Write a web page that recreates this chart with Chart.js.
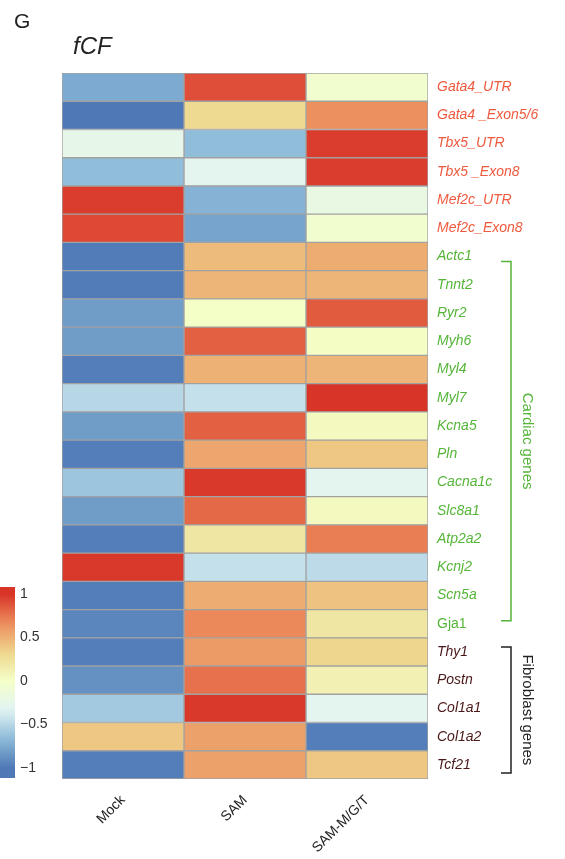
<!DOCTYPE html>
<html>
<head>
<meta charset="utf-8">
<script src="https://cdn.jsdelivr.net/npm/chart.js@4.4.1/dist/chart.umd.min.js"></script>
<style>
  html, body { margin: 0; padding: 0; background: #ffffff; }
  #wrap { width: 565px; height: 859px; position: relative; }
</style>
</head>
<body>
<div id="wrap"><canvas id="c" width="565" height="859"></canvas></div>
<script>
// ---- data ----
const genes = ["Gata4_UTR", "Gata4 _Exon5/6", "Tbx5_UTR", "Tbx5 _Exon8", "Mef2c_UTR", "Mef2c_Exon8",
  "Actc1", "Tnnt2", "Ryr2", "Myh6", "Myl4", "Myl7", "Kcna5", "Pln", "Cacna1c", "Slc8a1", "Atp2a2",
  "Kcnj2", "Scn5a", "Gja1", "Thy1", "Postn", "Col1a1", "Col1a2", "Tcf21"];
const conditions = ["Mock", "SAM", "SAM-M/G/T"];
const mockValues = [-0.75, -1.0, -0.25, -0.65, 0.97, 0.92, -0.98, -0.98, -0.82, -0.82, -0.97, -0.5, -0.82,
  -0.97, -0.6, -0.82, -0.97, 0.98, -0.97, -0.93, -0.97, -0.88, -0.58, 0.4, -0.97];
const samValues = [0.9, 0.3, -0.65, -0.3, -0.7, -0.78, 0.45, 0.48, 0.0, 0.83, 0.5, -0.45, 0.83,
  0.55, 0.98, 0.8, 0.2, -0.45, 0.52, 0.68, 0.6, 0.77, 0.98, 0.57, 0.57];
const samMGTValues = [-0.05, 0.65, 0.97, 0.97, -0.2, -0.05, 0.52, 0.48, 0.85, 0.02, 0.48, 1.0, 0.05,
  0.4, -0.3, 0.05, 0.72, -0.48, 0.42, 0.2, 0.33, 0.12, -0.3, -0.97, 0.4];
const colorbarTicks = [1, 0.5, 0, -0.5, -1];
const geneGroups = [
  { name: "Cardiac genes", first: "Actc1", last: "Gja1" },
  { name: "Fibroblast genes", first: "Thy1", last: "Tcf21" }
];

// ---- styling ----
const palette = [
  [-1, [78, 120, 182]],
  [-0.667, [140, 186, 216]],
  [-0.333, [226, 244, 244]],
  [0, [244, 255, 200]],
  [0.333, [238, 214, 140]],
  [0.667, [236, 140, 92]],
  [1, [216, 52, 40]]
];
function colorOf(v) {
  v = Math.max(-1, Math.min(1, v));
  for (let i = 0; i < palette.length - 1; i++) {
    const [a, ca] = palette[i], [b, cb] = palette[i + 1];
    if (v <= b) {
      const t = (v - a) / (b - a);
      const c = ca.map((x, k) => Math.round(x + (cb[k] - x) * t));
      return `rgb(${c[0]},${c[1]},${c[2]})`;
    }
  }
  return 'rgb(216,52,40)';
}
const redLabel = '#ee5a3e', greenLabel = '#55b539', fibLabel = '#4a1818';
function labelColor(i) {
  if (i < 6) return redLabel;
  if (i < 20) return greenLabel;
  return fibLabel;
}
const FONT = "'Liberation Sans', Arial, sans-serif";
const bracketStyle = [
  { color: greenLabel, padTop: -5, padBottom: -3 },
  { color: '#222', padTop: 5, padBottom: 8 }
];

const columns = [mockValues, samValues, samMGTValues];
const datasets = columns.map((vals, ci) => ({
  label: conditions[ci],
  data: genes.map(() => [ci, ci + 1]),
  backgroundColor: vals.map(colorOf),
  borderColor: '#a2a2a2',
  borderWidth: 1,
  borderSkipped: false,
  barPercentage: 1,
  categoryPercentage: 1
}));

const decor = {
  id: 'decor',
  afterDraw(chart) {
    const ctx = chart.ctx;
    const y = chart.scales.y;
    ctx.save();
    // panel letter and title
    ctx.fillStyle = '#222';
    ctx.font = `21px ${FONT}`;
    ctx.textBaseline = 'alphabetic';
    ctx.textAlign = 'left';
    ctx.fillText('G', 14, 28);
    ctx.font = `italic 24px ${FONT}`;
    ctx.fillText('fCF', 73, 54);

    // group brackets
    geneGroups.forEach((g, gi) => {
      const st = bracketStyle[gi];
      const i0 = genes.indexOf(g.first), i1 = genes.indexOf(g.last);
      const y0 = y.getPixelForValue(i0) - st.padTop;
      const y1 = y.getPixelForValue(i1) + st.padBottom;
      const xv = 511;
      ctx.strokeStyle = st.color;
      ctx.lineWidth = 1.5;
      ctx.beginPath();
      ctx.moveTo(501, y0); ctx.lineTo(xv, y0); ctx.lineTo(xv, y1); ctx.lineTo(501, y1);
      ctx.stroke();
      ctx.save();
      ctx.translate(520, (y0 + y1) / 2);
      ctx.rotate(Math.PI / 2);
      ctx.fillStyle = st.color;
      ctx.font = `15px ${FONT}`;
      ctx.textAlign = 'center';
      ctx.textBaseline = 'bottom';
      ctx.fillText(g.name, 0, 0);
      ctx.restore();
    });

    // colorbar
    const top = 587, bot = 778, cx0 = 0, cx1 = 15;
    const vy = v => 594 + (1 - v) / 2 * 174;
    const grad = ctx.createLinearGradient(0, vy(1), 0, vy(-1));
    for (let k = 0; k <= 20; k++) {
      const v = 1 - k / 10;
      grad.addColorStop(k / 20, colorOf(v));
    }
    ctx.fillStyle = grad;
    ctx.fillRect(cx0, top, cx1 - cx0, bot - top);
    ctx.fillStyle = '#333';
    ctx.font = `14px ${FONT}`;
    ctx.textAlign = 'left';
    ctx.textBaseline = 'middle';
    colorbarTicks.forEach(t => {
      const s = t < 0 ? '\u2212' + Math.abs(t) : String(t);
      ctx.fillText(s, 20, vy(t));
    });
    ctx.restore();
  }
};

new Chart(document.getElementById('c'), {
  type: 'bar',
  data: { labels: genes, datasets },
  options: {
    indexAxis: 'y',
    responsive: false,
    animation: false,
    events: [],
    layout: { padding: { left: 62, top: 73, right: 0, bottom: 0 } },
    plugins: { legend: { display: false }, tooltip: { enabled: false } },
    scales: {
      y: {
        type: 'category',
        position: 'right',
        stacked: true,
        grid: { display: false, drawTicks: false },
        border: { display: false },
        afterFit: s => { s.width = 137; },
        ticks: {
          padding: 9,
          autoSkip: false,
          color: c => labelColor(c.index),
          font: c => ({ family: FONT, size: 14, style: c.index === 19 ? 'normal' : 'italic' })
        }
      },
      x: {
        type: 'linear',
        position: 'bottom',
        min: 0, max: 3,
        stacked: false,
        grid: { display: false, drawTicks: false },
        border: { display: false },
        afterFit: s => { s.height = 80; },
        afterBuildTicks: s => { s.ticks = [0.5, 1.5, 2.5].map(v => ({ value: v })); },
        ticks: {
          padding: 13,
          minRotation: 45, maxRotation: 45,
          color: '#222',
          font: { family: FONT, size: 14 },
          callback: v => conditions[Math.floor(v)]
        }
      }
    }
  },
  plugins: [decor]
});
</script>
</body>
</html>
